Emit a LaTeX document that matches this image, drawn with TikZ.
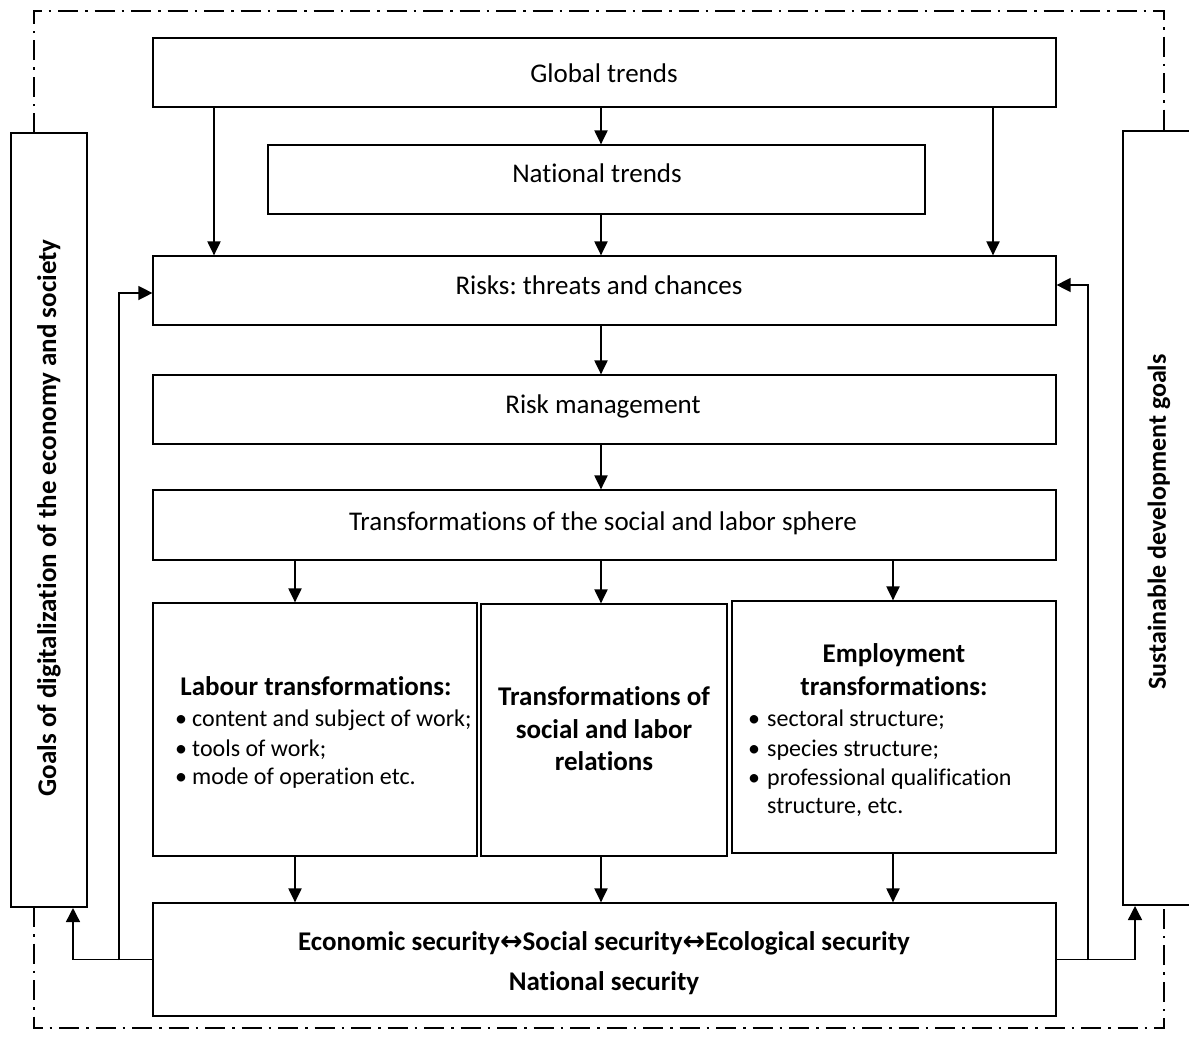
\documentclass[tikz,border=0pt]{standalone}
\usepackage{fontspec}
\setmainfont{Carlito}[Ligatures={NoCommon}]
\newfontfamily\symf{DejaVu Sans}
\usetikzlibrary{arrows.meta}
\frenchspacing
\tikzset{
  box/.style={draw, line width=1.2pt, inner sep=0pt},
  bar/.style={draw, line width=2pt, inner sep=0pt},
  txt/.style={inner sep=0pt, anchor=base, font=\fontsize{27}{32}\selectfont},
  ltxt/.style={inner sep=0pt, anchor=base west, font=\fontsize{24}{29}\selectfont},
  btxt/.style={inner sep=0pt, anchor=base, font=\fontsize{27}{32}\selectfont\bfseries},
  arr/.style={line width=2pt, -{Triangle[length=14pt,width=13pt]}},
  fbarr/.style={line width=1.4pt, -{Triangle[length=14pt,width=14pt]}},
  frame/.style={line width=1.6pt, dash pattern=on 20pt off 7pt on 2.5pt off 7pt}
}
\newcommand{\bul}[1]{\makebox[#1][l]{\textbullet}}
\begin{document}
\begin{tikzpicture}[x=1pt,y=-1pt]
\useasboundingbox (0,0) rectangle (1189,1039);
% outer dash-dot frame
\draw[frame] (34,133) -- (34,11) -- (1164,11) -- (1164,130);
\draw[frame] (34,907) -- (34,1028) -- (1164,1028) -- (1164,905);
% side bars
\node[bar, minimum width=76pt, minimum height=774pt] (lbar) at (49,520) {};
\node[bar, minimum width=76pt, minimum height=774pt] (rbar) at (1161,518) {};
\node[inner sep=0pt, rotate=90, font=\fontsize{27}{32}\selectfont\bfseries] (ltext) at (49,518) {Goals of digitalization of the economy and society};
\node[inner sep=0pt, rotate=90, font=\fontsize{26}{32}\selectfont\bfseries] (rtext) at (1159,522) {Sustainable development goals};
% main boxes
\node[box, minimum width=903pt, minimum height=69pt] (global) at (604.5,72.5) {};
\node[txt] (globaltext) at (604,82) {Global trends};
\node[box, minimum width=657pt, minimum height=69pt] (national) at (596.5,179.5) {};
\node[txt] (nattext) at (597,182) {National trends};
\node[box, minimum width=903pt, minimum height=69pt] (risks) at (604.5,290.5) {};
\node[txt] (riskstext) at (599,294) {Risks: threats and chances};
\node[box, minimum width=903pt, minimum height=69pt] (rm) at (604.5,409.5) {};
\node[txt] (rmtext) at (603,413) {Risk management};
\node[box, minimum width=903pt, minimum height=70pt] (tr) at (604.5,525) {};
\node[txt] (trtext) at (603,530) {Transformations of the social and labor sphere};
% three boxes
\node[box, minimum width=324pt, minimum height=253pt] (lab) at (315,729.5) {};
\node[box, minimum width=246pt, minimum height=252pt] (rel) at (604,730) {};
\node[box, minimum width=324pt, minimum height=252pt] (emp) at (894,727) {};
% labour
\node[btxt] (labh) at (316,695) {Labour transformations:};
\node[ltxt] (lab1) at (175,726) {\bul{17pt}content and subject of work;};
\node[ltxt] (lab2) at (175,756) {\bul{17pt}tools of work;};
\node[ltxt] (lab3) at (175,784) {\bul{17pt}mode of operation etc.};
% relations
\node[btxt] (rel1) at (604,705) {Transformations of};
\node[btxt] (rel2) at (604,738) {social and labor};
\node[btxt] (rel3) at (604,770) {relations};
% employment
\node[btxt] (emp1) at (894,662) {Employment};
\node[btxt] (emp2) at (894,695) {transformations:};
\node[ltxt] (emp3) at (748,726) {\bul{19pt}sectoral structure;};
\node[ltxt] (emp4) at (748,756) {\bul{19pt}species structure;};
\node[ltxt] (emp5) at (748,785) {\bul{19pt}professional qualification};
\node[ltxt] (emp6) at (767,813) {structure, etc.};
% bottom box
\node[box, minimum width=903pt, minimum height=113pt] (sec) at (604.5,959.5) {};
\node[btxt] (sec1) at (604,950) {Economic security{\symf\bfseries ↔}Social security{\symf\bfseries ↔}Ecological security};
\node[btxt] (sec2) at (604,990) {National security};
% arrow x positions
\coordinate (xa) at (214,0);
\coordinate (xb) at (601,0);
\coordinate (xc) at (993,0);
\coordinate (xd) at (295,0);
\coordinate (xe) at (893,0);
\draw[arr] (global.south -| xa) -- (risks.north -| xa);
\draw[arr] (global.south -| xc) -- (risks.north -| xc);
\draw[arr] (global.south -| xb) -- (national.north -| xb);
\draw[arr] (national.south -| xb) -- (risks.north -| xb);
\draw[arr] (risks.south -| xb) -- (rm.north -| xb);
\draw[arr] (rm.south -| xb) -- (tr.north -| xb);
\draw[arr] (tr.south -| xd) -- (lab.north -| xd);
\draw[arr] (tr.south -| xb) -- (rel.north -| xb);
\draw[arr] (tr.south -| xe) -- (emp.north -| xe);
\draw[arr] (lab.south -| xd) -- (sec.north -| xd);
\draw[arr] (rel.south -| xb) -- (sec.north -| xb);
\draw[arr] (emp.south -| xe) -- (sec.north -| xe);
% feedback left
\coordinate (lx) at (73,0);
\coordinate (ljun) at (119,960);
\coordinate (ly) at (0,293);
\draw[fbarr] (sec.west) -| (lbar.south -| lx);
\draw[fbarr] (ljun) |- (risks.west |- ly);
% feedback right
\coordinate (rx) at (1135,0);
\coordinate (rjun) at (1088,960);
\coordinate (ry) at (0,285);
\draw[fbarr] (sec.east) -| (rbar.south -| rx);
\draw[fbarr] (rjun) |- (risks.east |- ry);
\end{tikzpicture}
\end{document}
